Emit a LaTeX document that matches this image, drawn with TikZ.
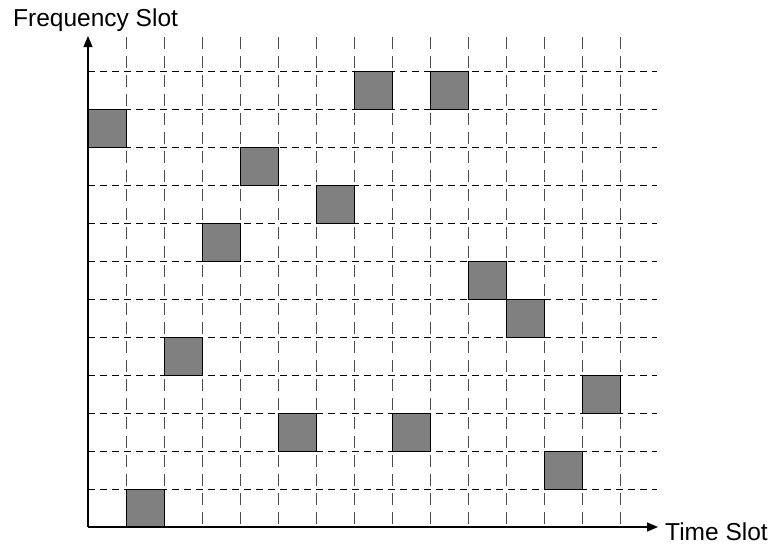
\documentclass[tikz,border=0pt]{standalone}
\usepackage{fontspec}
\setmainfont{Liberation Sans}
\usetikzlibrary{arrows.meta}
\tikzset{
  gridv/.style={draw=black!70, line width=0.9pt, dash pattern=on 12pt off 7pt},
  gridh/.style={draw=black, line width=0.9pt, dash pattern=on 7pt off 5pt},
  cell/.style={draw=black, line width=1pt, fill=black!50},
  axis/.style={draw=black, line width=1.2pt, -{Triangle[length=11pt,width=9pt]}},
  lbl/.style={inner sep=0pt, font=\fontsize{24.5}{29}\selectfont}
}
\begin{document}
\begin{tikzpicture}[x=1pt,y=-1pt]
\useasboundingbox (0,0) rectangle (773,546);
% vertical grid lines
\foreach \i in {1,...,14} {
  \draw[gridv] (88+38*\i,37) -- (88+38*\i,527);
}
% horizontal grid lines
\foreach \j in {1,...,12} {
  \draw[gridh] (88,527-38*\j) -- (657,527-38*\j);
}
% occupied cells (col,row)
\foreach \c/\r in {0/10, 7/11, 9/11, 4/9, 6/8, 3/7, 10/6, 11/5, 2/4, 13/3, 5/2, 8/2, 12/1, 1/0} {
  \draw[cell] (88+38*\c,527-38*\r) rectangle (126+38*\c,489-38*\r);
}
% axes
\coordinate (O) at (88,527);
\coordinate (ytip) at (88,36);
\coordinate (xtip) at (658,527);
\draw[axis] (O) -- (ytip);
\draw[axis] (O) -- (xtip);
\node[lbl, anchor=base west] (flabel) at (13,27) {Frequency Slot};
\node[lbl, anchor=base west] (tlabel) at (665,540) {Time Slot};
\end{tikzpicture}
\end{document}
